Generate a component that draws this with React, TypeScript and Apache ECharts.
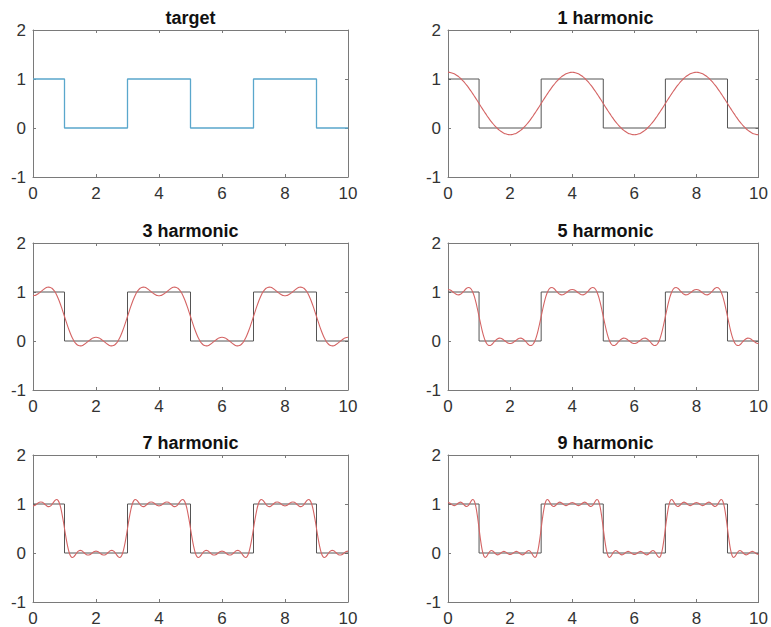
import React, { useEffect, useRef } from "react";
import * as echarts from "echarts";

const TITLES = ["target", "1 harmonic", "3 harmonic", "5 harmonic", "7 harmonic", "9 harmonic"];

const X_TICKS = [0, 2, 4, 6, 8, 10];
const Y_TICKS = [-1, 0, 1, 2];

// square wave (target) corner points
const SQ_X = [0, 1, 1, 3, 3, 5, 5, 7, 7, 9, 9, 10];
const SQ_Y = [1, 1, 0, 0, 1, 1, 0, 0, 1, 1, 0, 0];

// sample positions for the harmonic curves
const XS = [
  0, 0.05, 0.1, 0.15, 0.2, 0.25, 0.3, 0.35, 0.4, 0.45, 0.5, 0.55, 0.6, 0.65, 0.7, 0.75, 0.8, 0.85, 0.9, 0.95,
  1, 1.05, 1.1, 1.15, 1.2, 1.25, 1.3, 1.35, 1.4, 1.45, 1.5, 1.55, 1.6, 1.65, 1.7, 1.75, 1.8, 1.85, 1.9, 1.95,
  2, 2.05, 2.1, 2.15, 2.2, 2.25, 2.3, 2.35, 2.4, 2.45, 2.5, 2.55, 2.6, 2.65, 2.7, 2.75, 2.8, 2.85, 2.9, 2.95,
  3, 3.05, 3.1, 3.15, 3.2, 3.25, 3.3, 3.35, 3.4, 3.45, 3.5, 3.55, 3.6, 3.65, 3.7, 3.75, 3.8, 3.85, 3.9, 3.95,
  4, 4.05, 4.1, 4.15, 4.2, 4.25, 4.3, 4.35, 4.4, 4.45, 4.5, 4.55, 4.6, 4.65, 4.7, 4.75, 4.8, 4.85, 4.9, 4.95,
  5, 5.05, 5.1, 5.15, 5.2, 5.25, 5.3, 5.35, 5.4, 5.45, 5.5, 5.55, 5.6, 5.65, 5.7, 5.75, 5.8, 5.85, 5.9, 5.95,
  6, 6.05, 6.1, 6.15, 6.2, 6.25, 6.3, 6.35, 6.4, 6.45, 6.5, 6.55, 6.6, 6.65, 6.7, 6.75, 6.8, 6.85, 6.9, 6.95,
  7, 7.05, 7.1, 7.15, 7.2, 7.25, 7.3, 7.35, 7.4, 7.45, 7.5, 7.55, 7.6, 7.65, 7.7, 7.75, 7.8, 7.85, 7.9, 7.95,
  8, 8.05, 8.1, 8.15, 8.2, 8.25, 8.3, 8.35, 8.4, 8.45, 8.5, 8.55, 8.6, 8.65, 8.7, 8.75, 8.8, 8.85, 8.9, 8.95,
  9, 9.05, 9.1, 9.15, 9.2, 9.25, 9.3, 9.35, 9.4, 9.45, 9.5, 9.55, 9.6, 9.65, 9.7, 9.75, 9.8, 9.85, 9.9, 9.95,
  10,
];

const H1 = [
  1.137, 1.135, 1.129, 1.119, 1.105, 1.088, 1.067, 1.043, 1.015, 0.984, 0.950, 0.913, 0.874, 0.833, 0.789, 0.744, 0.697, 0.649, 0.600, 0.550, 0.500,
  0.450, 0.400, 0.351, 0.303, 0.256, 0.211, 0.167, 0.126, 0.087, 0.050, 0.016, -0.015, -0.043, -0.067, -0.088, -0.105, -0.119, -0.129, -0.135, -0.137,
  -0.135, -0.129, -0.119, -0.105, -0.088, -0.067, -0.043, -0.015, 0.016, 0.050, 0.087, 0.126, 0.167, 0.211, 0.256, 0.303, 0.351, 0.400, 0.450, 0.500,
  0.550, 0.600, 0.649, 0.697, 0.744, 0.789, 0.833, 0.874, 0.913, 0.950, 0.984, 1.015, 1.043, 1.067, 1.088, 1.105, 1.119, 1.129, 1.135, 1.137,
  1.135, 1.129, 1.119, 1.105, 1.088, 1.067, 1.043, 1.015, 0.984, 0.950, 0.913, 0.874, 0.833, 0.789, 0.744, 0.697, 0.649, 0.600, 0.550, 0.500,
  0.450, 0.400, 0.351, 0.303, 0.256, 0.211, 0.167, 0.126, 0.087, 0.050, 0.016, -0.015, -0.043, -0.067, -0.088, -0.105, -0.119, -0.129, -0.135, -0.137,
  -0.135, -0.129, -0.119, -0.105, -0.088, -0.067, -0.043, -0.015, 0.016, 0.050, 0.087, 0.126, 0.167, 0.211, 0.256, 0.303, 0.351, 0.400, 0.450, 0.500,
  0.550, 0.600, 0.649, 0.697, 0.744, 0.789, 0.833, 0.874, 0.913, 0.950, 0.984, 1.015, 1.043, 1.067, 1.088, 1.105, 1.119, 1.129, 1.135, 1.137,
  1.135, 1.129, 1.119, 1.105, 1.088, 1.067, 1.043, 1.015, 0.984, 0.950, 0.913, 0.874, 0.833, 0.789, 0.744, 0.697, 0.649, 0.600, 0.550, 0.500,
  0.450, 0.400, 0.351, 0.303, 0.256, 0.211, 0.167, 0.126, 0.087, 0.050, 0.016, -0.015, -0.043, -0.067, -0.088, -0.105, -0.119, -0.129, -0.135, -0.137,
];

const H3 = [
  0.924, 0.928, 0.940, 0.958, 0.981, 1.007, 1.034, 1.059, 1.081, 1.095, 1.100, 1.094, 1.076, 1.044, 0.999, 0.940, 0.868, 0.786, 0.696, 0.599, 0.500,
  0.401, 0.304, 0.214, 0.132, 0.060, 0.001, -0.044, -0.076, -0.094, -0.100, -0.095, -0.081, -0.059, -0.034, -0.007, 0.019, 0.042, 0.060, 0.072, 0.076,
  0.072, 0.060, 0.042, 0.019, -0.007, -0.034, -0.059, -0.081, -0.095, -0.100, -0.094, -0.076, -0.044, 0.001, 0.060, 0.132, 0.214, 0.304, 0.401, 0.500,
  0.599, 0.696, 0.786, 0.868, 0.940, 0.999, 1.044, 1.076, 1.094, 1.100, 1.095, 1.081, 1.059, 1.034, 1.007, 0.981, 0.958, 0.940, 0.928, 0.924,
  0.928, 0.940, 0.958, 0.981, 1.007, 1.034, 1.059, 1.081, 1.095, 1.100, 1.094, 1.076, 1.044, 0.999, 0.940, 0.868, 0.786, 0.696, 0.599, 0.500,
  0.401, 0.304, 0.214, 0.132, 0.060, 0.001, -0.044, -0.076, -0.094, -0.100, -0.095, -0.081, -0.059, -0.034, -0.007, 0.019, 0.042, 0.060, 0.072, 0.076,
  0.072, 0.060, 0.042, 0.019, -0.007, -0.034, -0.059, -0.081, -0.095, -0.100, -0.094, -0.076, -0.044, 0.001, 0.060, 0.132, 0.214, 0.304, 0.401, 0.500,
  0.599, 0.696, 0.786, 0.868, 0.940, 0.999, 1.044, 1.076, 1.094, 1.100, 1.095, 1.081, 1.059, 1.034, 1.007, 0.981, 0.958, 0.940, 0.928, 0.924,
  0.928, 0.940, 0.958, 0.981, 1.007, 1.034, 1.059, 1.081, 1.095, 1.100, 1.094, 1.076, 1.044, 0.999, 0.940, 0.868, 0.786, 0.696, 0.599, 0.500,
  0.401, 0.304, 0.214, 0.132, 0.060, 0.001, -0.044, -0.076, -0.094, -0.100, -0.095, -0.081, -0.059, -0.034, -0.007, 0.019, 0.042, 0.060, 0.072, 0.076,
];

const H5 = [
  1.052, 1.046, 1.030, 1.006, 0.981, 0.958, 0.944, 0.942, 0.953, 0.977, 1.010, 1.046, 1.076, 1.093, 1.089, 1.057, 0.996, 0.904, 0.786, 0.648, 0.500,
  0.352, 0.214, 0.096, 0.004, -0.057, -0.089, -0.093, -0.076, -0.046, -0.010, 0.023, 0.047, 0.058, 0.056, 0.042, 0.019, -0.006, -0.030, -0.046, -0.052,
  -0.046, -0.030, -0.006, 0.019, 0.042, 0.056, 0.058, 0.047, 0.023, -0.010, -0.046, -0.076, -0.093, -0.089, -0.057, 0.004, 0.096, 0.214, 0.352, 0.500,
  0.648, 0.786, 0.904, 0.996, 1.057, 1.089, 1.093, 1.076, 1.046, 1.010, 0.977, 0.953, 0.942, 0.944, 0.958, 0.981, 1.006, 1.030, 1.046, 1.052,
  1.046, 1.030, 1.006, 0.981, 0.958, 0.944, 0.942, 0.953, 0.977, 1.010, 1.046, 1.076, 1.093, 1.089, 1.057, 0.996, 0.904, 0.786, 0.648, 0.500,
  0.352, 0.214, 0.096, 0.004, -0.057, -0.089, -0.093, -0.076, -0.046, -0.010, 0.023, 0.047, 0.058, 0.056, 0.042, 0.019, -0.006, -0.030, -0.046, -0.052,
  -0.046, -0.030, -0.006, 0.019, 0.042, 0.056, 0.058, 0.047, 0.023, -0.010, -0.046, -0.076, -0.093, -0.089, -0.057, 0.004, 0.096, 0.214, 0.352, 0.500,
  0.648, 0.786, 0.904, 0.996, 1.057, 1.089, 1.093, 1.076, 1.046, 1.010, 0.977, 0.953, 0.942, 0.944, 0.958, 0.981, 1.006, 1.030, 1.046, 1.052,
  1.046, 1.030, 1.006, 0.981, 0.958, 0.944, 0.942, 0.953, 0.977, 1.010, 1.046, 1.076, 1.093, 1.089, 1.057, 0.996, 0.904, 0.786, 0.648, 0.500,
  0.352, 0.214, 0.096, 0.004, -0.057, -0.089, -0.093, -0.076, -0.046, -0.010, 0.023, 0.047, 0.058, 0.056, 0.042, 0.019, -0.006, -0.030, -0.046, -0.052,
];

const H7 = [
  0.961, 0.968, 0.988, 1.014, 1.034, 1.042, 1.034, 1.011, 0.981, 0.956, 0.946, 0.957, 0.990, 1.034, 1.074, 1.092, 1.069, 0.995, 0.867, 0.696, 0.500,
  0.304, 0.133, 0.005, -0.069, -0.092, -0.074, -0.034, 0.010, 0.043, 0.054, 0.044, 0.019, -0.011, -0.034, -0.042, -0.034, -0.014, 0.012, 0.032, 0.039,
  0.032, 0.012, -0.014, -0.034, -0.042, -0.034, -0.011, 0.019, 0.044, 0.054, 0.043, 0.010, -0.034, -0.074, -0.092, -0.069, 0.005, 0.133, 0.304, 0.500,
  0.696, 0.867, 0.995, 1.069, 1.092, 1.074, 1.034, 0.990, 0.957, 0.946, 0.956, 0.981, 1.011, 1.034, 1.042, 1.034, 1.014, 0.988, 0.968, 0.961,
  0.968, 0.988, 1.014, 1.034, 1.042, 1.034, 1.011, 0.981, 0.956, 0.946, 0.957, 0.990, 1.034, 1.074, 1.092, 1.069, 0.995, 0.867, 0.696, 0.500,
  0.304, 0.133, 0.005, -0.069, -0.092, -0.074, -0.034, 0.010, 0.043, 0.054, 0.044, 0.019, -0.011, -0.034, -0.042, -0.034, -0.014, 0.012, 0.032, 0.039,
  0.032, 0.012, -0.014, -0.034, -0.042, -0.034, -0.011, 0.019, 0.044, 0.054, 0.043, 0.010, -0.034, -0.074, -0.092, -0.069, 0.005, 0.133, 0.304, 0.500,
  0.696, 0.867, 0.995, 1.069, 1.092, 1.074, 1.034, 0.990, 0.957, 0.946, 0.956, 0.981, 1.011, 1.034, 1.042, 1.034, 1.014, 0.988, 0.968, 0.961,
  0.968, 0.988, 1.014, 1.034, 1.042, 1.034, 1.011, 0.981, 0.956, 0.946, 0.957, 0.990, 1.034, 1.074, 1.092, 1.069, 0.995, 0.867, 0.696, 0.500,
  0.304, 0.133, 0.005, -0.069, -0.092, -0.074, -0.034, 0.010, 0.043, 0.054, 0.044, 0.019, -0.011, -0.034, -0.042, -0.034, -0.014, 0.012, 0.032, 0.039,
];

const H9 = [
  1.032, 1.022, 1.000, 0.977, 0.967, 0.977, 1.002, 1.027, 1.039, 1.027, 0.996, 0.963, 0.948, 0.965, 1.011, 1.065, 1.091, 1.055, 0.937, 0.742, 0.500,
  0.258, 0.063, -0.055, -0.091, -0.065, -0.011, 0.035, 0.052, 0.037, 0.004, -0.027, -0.039, -0.027, -0.002, 0.023, 0.033, 0.023, 0.000, -0.022, -0.032,
  -0.022, 0.000, 0.023, 0.033, 0.023, -0.002, -0.027, -0.039, -0.027, 0.004, 0.037, 0.052, 0.035, -0.011, -0.065, -0.091, -0.055, 0.063, 0.258, 0.500,
  0.742, 0.937, 1.055, 1.091, 1.065, 1.011, 0.965, 0.948, 0.963, 0.996, 1.027, 1.039, 1.027, 1.002, 0.977, 0.967, 0.977, 1.000, 1.022, 1.032,
  1.022, 1.000, 0.977, 0.967, 0.977, 1.002, 1.027, 1.039, 1.027, 0.996, 0.963, 0.948, 0.965, 1.011, 1.065, 1.091, 1.055, 0.937, 0.742, 0.500,
  0.258, 0.063, -0.055, -0.091, -0.065, -0.011, 0.035, 0.052, 0.037, 0.004, -0.027, -0.039, -0.027, -0.002, 0.023, 0.033, 0.023, 0.000, -0.022, -0.032,
  -0.022, 0.000, 0.023, 0.033, 0.023, -0.002, -0.027, -0.039, -0.027, 0.004, 0.037, 0.052, 0.035, -0.011, -0.065, -0.091, -0.055, 0.063, 0.258, 0.500,
  0.742, 0.937, 1.055, 1.091, 1.065, 1.011, 0.965, 0.948, 0.963, 0.996, 1.027, 1.039, 1.027, 1.002, 0.977, 0.967, 0.977, 1.000, 1.022, 1.032,
  1.022, 1.000, 0.977, 0.967, 0.977, 1.002, 1.027, 1.039, 1.027, 0.996, 0.963, 0.948, 0.965, 1.011, 1.065, 1.091, 1.055, 0.937, 0.742, 0.500,
  0.258, 0.063, -0.055, -0.091, -0.065, -0.011, 0.035, 0.052, 0.037, 0.004, -0.027, -0.039, -0.027, -0.002, 0.023, 0.033, 0.023, 0.000, -0.022, -0.032,
];

const HARMONICS = [null, H1, H3, H5, H7, H9];

const W = 771;
const H = 627;
const COL_LEFT = [33, 448];
const PLOT_W = 315;
const ROW_TOP = [30, 243, 455];
const PLOT_H = 147;
const TITLE_Y = [18, 231, 443];

const FONT = "'Liberation Sans', Arial, Helvetica, sans-serif";
const BOX = "#7a7a7a";
const LABEL = "#333333";

export default function App() {
  const ref = useRef<HTMLDivElement>(null);

  useEffect(() => {
    if (!ref.current) return;
    const chart = echarts.init(ref.current, undefined, { renderer: "svg" });

    const grids: any[] = [];
    const xAxes: any[] = [];
    const yAxes: any[] = [];
    const series: any[] = [];
    const graphics: any[] = [];

    for (let i = 0; i < 6; i++) {
      const row = Math.floor(i / 2);
      const col = i % 2;
      const left = COL_LEFT[col];
      const top = ROW_TOP[row];
      grids.push({ left, top, width: PLOT_W, height: PLOT_H, containLabel: false });

      const tick = { show: true, inside: true, length: 3, lineStyle: { color: BOX, width: 1 } };
      const line = { show: true, onZero: false, lineStyle: { color: BOX, width: 1 } };
      const label = { color: LABEL, fontSize: 17, fontFamily: FONT };

      xAxes.push({
        type: "value", gridIndex: i, min: X_TICKS[0], max: X_TICKS[X_TICKS.length - 1], interval: 2,
        position: "bottom", axisLine: line, axisTick: tick, splitLine: { show: false },
        axisLabel: { ...label, margin: 8 },
      });
      xAxes.push({
        type: "value", gridIndex: i, min: X_TICKS[0], max: X_TICKS[X_TICKS.length - 1], interval: 2,
        position: "top", axisLine: line, axisTick: tick, splitLine: { show: false },
        axisLabel: { show: false },
      });
      yAxes.push({
        type: "value", gridIndex: i, min: Y_TICKS[0], max: Y_TICKS[Y_TICKS.length - 1], interval: 1,
        position: "left", axisLine: line, axisTick: tick, splitLine: { show: false },
        axisLabel: { ...label, margin: 7 },
      });
      yAxes.push({
        type: "value", gridIndex: i, min: Y_TICKS[0], max: Y_TICKS[Y_TICKS.length - 1], interval: 1,
        position: "right", axisLine: line, axisTick: tick, splitLine: { show: false },
        axisLabel: { show: false },
      });

      series.push({
        type: "line",
        xAxisIndex: i * 2,
        yAxisIndex: i * 2,
        data: SQ_X.map((x, k) => [x, SQ_Y[k]]),
        showSymbol: false,
        symbol: "none",
        lineStyle: { color: i === 0 ? "#5aa7cc" : "#555555", width: i === 0 ? 1.3 : 1 },
        z: 2,
      });

      const hv = HARMONICS[i];
      if (hv) {
        series.push({
          type: "line",
          xAxisIndex: i * 2,
          yAxisIndex: i * 2,
          data: XS.map((x, k) => [x, hv[k]]),
          showSymbol: false,
          symbol: "none",
          smooth: 0.3,
          lineStyle: { color: "#d46464", width: 1.1 },
          z: 3,
        });
      }

      graphics.push({
        type: "text",
        x: left + PLOT_W / 2,
        y: TITLE_Y[row],
        style: {
          text: TITLES[i],
          fill: "#111111",
          font: `bold 18px ${FONT}`,
          textAlign: "center",
          textVerticalAlign: "middle",
        },
      });
    }

    chart.setOption({
      animation: false,
      backgroundColor: "#ffffff",
      grid: grids,
      xAxis: xAxes,
      yAxis: yAxes,
      series,
      graphic: graphics,
    });

    return () => chart.dispose();
  }, []);

  return (
    <div
      ref={ref}
      style={{ position: "absolute", left: 0, top: 0, width: W, height: H }}
    />
  );
}
